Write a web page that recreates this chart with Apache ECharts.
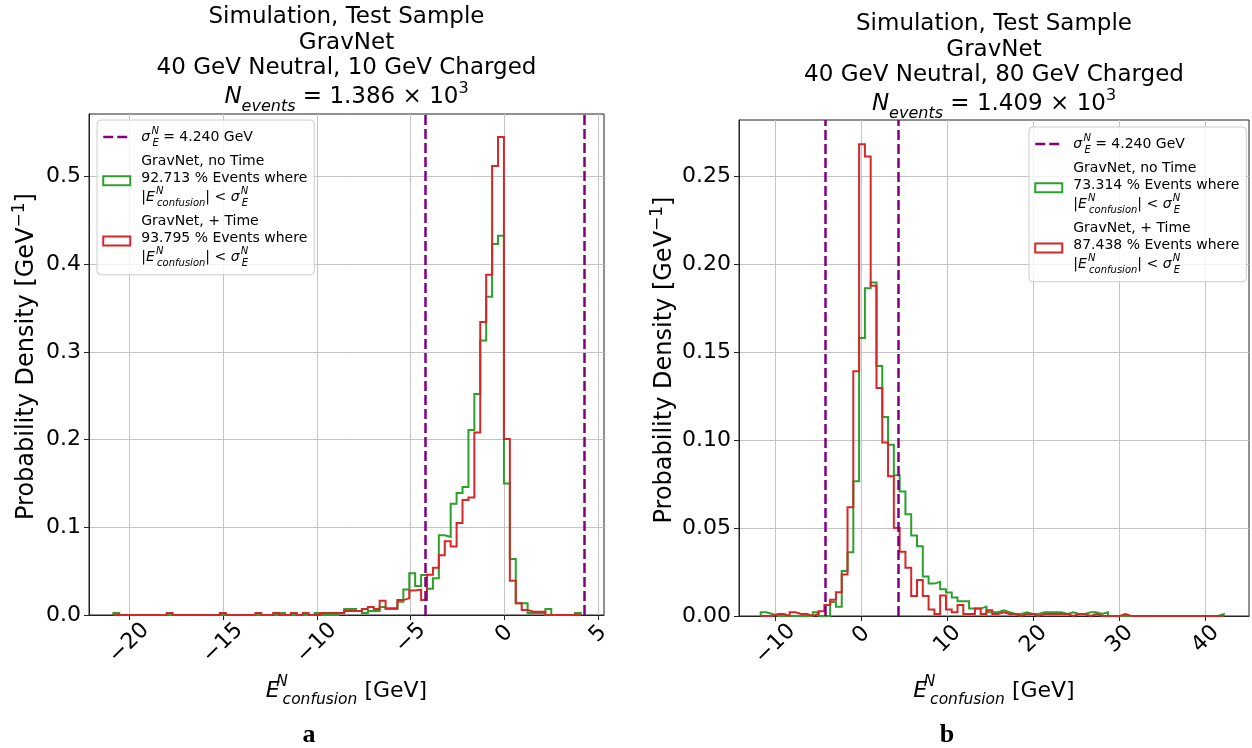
<!DOCTYPE html>
<html><head><meta charset="utf-8">
<script src="https://cdn.jsdelivr.net/npm/echarts@6/dist/echarts.min.js"></script>
<style>html,body{margin:0;padding:0;background:#fff}#c{width:1252px;height:748px}</style>
</head><body><div id="c"></div>
<script>
const FONT = 'DejaVu Sans';
const GREEN = '#2ca02c', RED = '#d62728', PURPLE = '#800080';
const sigmaN = 4.240;

// ---------- Panel a: 40 GeV Neutral, 10 GeV Charged ----------
const aBinStart = -20.84, aBinWidth = 0.3154;
const aNoTime = [
0.0023,0,0,0,0,0,0,0,0,0,
0,0,0,0,0,0,0,0,0,0,
0,0,0,0,0,0,0,0,0.0023,0,
0,0,0,0,0.0023,0,0,0,0.0023,0.0069,
0.0069,0.0046,0.0023,0.0046,0.0046,0.0092,0.0069,0.0069,0.0150,0.029,
0.0475,0.033,0.0456,0.030,0.042,0.091,0.089,0.127,0.139,0.146,
0.211,0.252,0.313,0.363,0.423,0.4325,0.150,0.064,0.0133,0.0133,
0.0023,0.0023,0.0023,0.0069,0,0,0,0,0.0023];
const aTime = [
0,0,0,0,0,0,0,0,0,0.0023,
0,0,0,0,0,0,0,0,0.0023,0,
0,0,0,0,0.0023,0,0,0.0023,0,0,
0.0023,0,0.0023,0,0,0.0023,0.0023,0.0023,0.0023,0.0046,
0.0046,0.0046,0.0069,0.0092,0.0069,0.0162,0.0076,0.0076,0.017,0.019,
0.028,0.029,0.017,0.046,0.054,0.068,0.084,0.078,0.105,0.131,
0.134,0.208,0.334,0.388,0.512,0.545,0.2007,0.039,0.0133,0.0057,
0.0038,0.0038,0.0038,0,0,0,0,0,0];
const aXTicks = [-20,-15,-10,-5,0,5];
const aYTicks = [0,0.1,0.2,0.3,0.4,0.5];
const aTitle = ['Simulation, Test Sample','GravNet','40 GeV Neutral, 10 GeV Charged'];
const aNEvents = '1.386';
const aPct = [92.713, 93.795];

// ---------- Panel b: 40 GeV Neutral, 80 GeV Charged ----------
const bBinStart = -11.71, bBinWidth = 0.6727;
const bNoTime = [
0.0021,0.0011,0,0,0,0,0,0,0,0.0021,
0,0,0.0080,0.0052,0.0255,0.0362,0.0765,0.158,0.1862,0.1895,
0.142,0.113,0.0973,0.0800,0.0708,0.0578,0.0457,0.0396,0.0224,0.0184,
0.0194,0.0152,0.0133,0.0105,0.0084,0.0084,0.0042,0.0042,0.0053,0.0021,
0.0021,0.0032,0.0021,0.0011,0.0011,0.0021,0.0011,0.0011,0.0021,0.0021,
0.0021,0.0021,0.0011,0.0021,0.0011,0.0011,0.0021,0.0021,0.0011,0.0021,
0,0,0,0,0,0,0,0,0,0,
0,0,0,0,0,0,0,0,0,0.0011];
const bTime = [
0,0,0.0011,0.0011,0,0.0021,0.0011,0.0011,0,0.0011,
0.0027,0.0062,0.0093,0.0135,0.0236,0.0618,0.139,0.268,0.261,0.1876,
0.1295,0.0986,0.0794,0.050,0.0365,0.0274,0.0113,0.0205,0.0113,0.0037,
0.0011,0.0116,0.0037,0.0021,0.0063,0.0011,0.0011,0.0042,0.0011,0.0032,
0.0011,0.0021,0.0011,0.0011,0,0.0011,0.0011,0,0.0011,0.0011,
0.0011,0.0011,0.0011,0,0.0011,0.0011,0,0.0011,0,0,
0,0,0.0011,0,0,0,0,0,0,0,
0,0,0,0,0,0,0,0,0,0];
const bXTicks = [-10,0,10,20,30,40];
const bYTicks = [0,0.05,0.10,0.15,0.20,0.25];
const bTitle = ['Simulation, Test Sample','GravNet','40 GeV Neutral, 80 GeV Charged'];
const bNEvents = '1.409';
const bPct = [73.314, 87.438];

// ---------- helpers ----------
function stepPoints(start, width, vals) {
  const pts = [[start, 0]];
  vals.forEach((v, i) => { pts.push([start + i * width, v], [start + (i + 1) * width, v]); });
  pts.push([start + vals.length * width, 0]);
  return pts;
}
function xLabel(v) {
  const s = (v < 0 ? '\u2212' : '') + Math.abs(v);
  return '{c' + s.length + '|' + s + '}';
}
const base = {fontFamily: FONT, fontSize: 22, color: '#000'};
const xRich = {
  c1: Object.assign({}, base, {padding: [0, 0, 0, 0]}),
  c2: Object.assign({}, base, {padding: [6, 6, 0, 0]}),
  c3: Object.assign({}, base, {padding: [13, 13, 0, 0]})
};
const yNameRich = {
  n: {fontFamily: FONT, fontSize: 24, color: '#000', lineHeight: 32},
  p: {fontFamily: FONT, fontSize: 17, color: '#000', lineHeight: 17, verticalAlign: 'top'}
};
const yName = '{n|Probability Density [GeV}{p|\u22121}{n|]}';

function makeAxes(gi, xmin, xmax, xt, ymax, yt, ydec, nameGap) {
  const lineC = '#222';
  return {
    x: {
      type: 'value', gridIndex: gi, min: xmin, max: xmax,
      axisLine: {show: true, onZero: false, lineStyle: {color: lineC, width: 1}},
      axisTick: {show: true, customValues: xt, length: 5, lineStyle: {color: lineC}},
      axisLabel: {customValues: xt, formatter: xLabel, rotate: 45, align: 'center', verticalAlign: 'middle',
                  margin: 19, rich: xRich, fontFamily: FONT, fontSize: 22, color: '#000'},
      splitLine: {show: true, lineStyle: {color: '#c4c4c4', width: 1}}
    },
    y: {
      type: 'value', gridIndex: gi, min: 0, max: ymax,
      axisLine: {show: true, onZero: false, lineStyle: {color: lineC, width: 1}},
      axisTick: {show: true, customValues: yt, length: 5, lineStyle: {color: lineC}},
      axisLabel: {customValues: yt, formatter: v => v.toFixed(ydec), margin: 8,
                  fontFamily: FONT, fontSize: 22, color: '#000'},
      splitLine: {show: true, lineStyle: {color: '#c4c4c4', width: 1}},
      name: yName, nameLocation: 'middle', nameRotate: 90, nameGap: nameGap,
      nameTextStyle: {rich: yNameRich, fontFamily: FONT, fontSize: 24, color: '#000', padding: [0, 0, 0, 16]}
    }
  };
}
const axA = makeAxes(0, -22.14, 5.31, aXTicks, 0.5713, aYTicks, 1, 46);
const axB = makeAxes(1, -14.23, 45.03, bXTicks, 0.2818, bYTicks, 2, 58);

function sigmaSeries(name, gi) {
  return {
    name: name, type: 'line', xAxisIndex: gi, yAxisIndex: gi, data: [], symbol: 'none',
    itemStyle: {color: 'rgba(0,0,0,0)'},
    lineStyle: {color: PURPLE, width: 2.5, type: [10, 4]},
    z: 5,
    markLine: {silent: true, symbol: ['none', 'none'], label: {show: false}, animation: false,
      lineStyle: {color: PURPLE, width: 2.5, type: [10, 4]},
      emphasis: {disabled: true},
      data: [{xAxis: -sigmaN}, {xAxis: sigmaN}]}
  };
}
function histSeries(name, gi, start, width, vals, color, z) {
  return {
    name: name, type: 'line', xAxisIndex: gi, yAxisIndex: gi, data: stepPoints(start, width, vals),
    symbol: 'none', showSymbol: false, z: z, silent: true,
    itemStyle: {color: color},
    lineStyle: {color: color, width: 2, join: 'miter'}
  };
}

const legRich = {
  n: {fontFamily: FONT, fontSize: 14, color: '#000', lineHeight: 22},
  e: {fontFamily: FONT, fontSize: 14, fontStyle: 'italic', color: '#000', lineHeight: 22},
  g: {fontFamily: FONT, fontSize: 4, color: '#000', lineHeight: 22},
  sp: {fontFamily: FONT, fontSize: 10, fontStyle: 'italic', color: '#000', lineHeight: 14, verticalAlign: 'top', width: 1},
  sb: {fontFamily: FONT, fontSize: 10, fontStyle: 'italic', color: '#000', lineHeight: 8, verticalAlign: 'bottom'}
};
const mathLine = '{n||}{e|E}{g| }{sp|N}{sb|confusion}{n|| < }{e|\u03c3}{g| }{sp|N}{sb|E}';
function legendFormatter(pct) {
  return function (name) {
    if (name.indexOf('sig') === 0) return '{e|\u03c3}{g| }{sp|N}{sb|E}{n| = ' + sigmaN.toFixed(3) + ' GeV}';
    if (name.indexOf('noTime') === 0) return 'GravNet, no Time\n' + pct[0].toFixed(3) + ' % Events where\n' + mathLine;
    return 'GravNet, + Time\n' + pct[1].toFixed(3) + ' % Events where\n' + mathLine;
  };
}
function makeLegend(suffix, left, top, pct) {
  return {
    left: left, top: top, orient: 'vertical', align: 'left',
    itemWidth: 27, itemHeight: 9, itemGap: 5, padding: [6, 7, 6, 5],
    backgroundColor: 'rgba(255,255,255,0.8)', borderColor: '#cccccc', borderWidth: 1, borderRadius: 4,
    selectedMode: false,
    data: [
      {name: 'sig' + suffix, itemStyle: {opacity: 0}, lineStyle: {color: PURPLE, width: 2.5, type: [10, 4]}},
      {name: 'noTime' + suffix, icon: 'rect', itemStyle: {color: '#ffffff', borderColor: GREEN, borderWidth: 2}},
      {name: 'time' + suffix, icon: 'rect', itemStyle: {color: '#ffffff', borderColor: RED, borderWidth: 2}}
    ],
    formatter: legendFormatter(pct),
    textStyle: {fontFamily: FONT, fontSize: 14, color: '#000', lineHeight: 16.7, padding: [0, 0, 0, 6], rich: legRich}
  };
}

// ---------- text (titles, x-axis names, panel letters) ----------
const titleRich = {
  m: {fontFamily: FONT, fontSize: 23, fill: '#000', lineHeight: 34},
  mi: {fontFamily: FONT, fontSize: 23, fontStyle: 'italic', fill: '#000', lineHeight: 34},
  sb: {fontFamily: FONT, fontSize: 16, fontStyle: 'italic', fill: '#000', lineHeight: 20, verticalAlign: 'bottom'},
  sp: {fontFamily: FONT, fontSize: 16, fill: '#000', lineHeight: 16, verticalAlign: 'top'}
};
const xNameRich = {
  e: {fontFamily: FONT, fontSize: 22, fontStyle: 'italic', fill: '#000', lineHeight: 34},
  g: {fontFamily: FONT, fontSize: 6, fill: '#000', lineHeight: 34},
  sp: {fontFamily: FONT, fontSize: 15.5, fontStyle: 'italic', fill: '#000', lineHeight: 22, verticalAlign: 'top', width: 1},
  sb: {fontFamily: FONT, fontSize: 15.5, fontStyle: 'italic', fill: '#000', lineHeight: 16, verticalAlign: 'bottom'},
  n: {fontFamily: FONT, fontSize: 22, fill: '#000', lineHeight: 34}
};
function txt(x, y, text, extra) {
  return {type: 'text', x: x, y: y, silent: true, z: 100,
    style: Object.assign({text: text, fill: '#000', fontFamily: FONT, fontSize: 23, align: 'center', verticalAlign: 'middle'}, extra || {})};
}
function titleBlock(cx, y0, lines, nev) {
  return [
    txt(cx, y0, lines[0]),
    txt(cx, y0 + 25.5, lines[1]),
    txt(cx, y0 + 51, lines[2]),
    txt(cx, y0 + 80, '{mi|N}{sb|events}{m| = ' + nev + ' \u00d7 10}{sp|3}', {rich: titleRich})
  ];
}
const xName = '{e|E}{g| }{sp|N}{sb|confusion}{n| [GeV]}';
const graphics = [].concat(
  titleBlock(346.5, 17.5, aTitle, aNEvents),
  titleBlock(994, 24.5, bTitle, bNEvents),
  [txt(346.5, 691, xName, {rich: xNameRich}),
   txt(994, 691, xName, {rich: xNameRich}),
   txt(309, 735, 'a', {fontFamily: 'Liberation Serif', fontWeight: 'bold', fontSize: 26}),
   txt(947, 735, 'b', {fontFamily: 'Liberation Serif', fontWeight: 'bold', fontSize: 26})]
);

const chart = echarts.init(document.getElementById('c'), null, {renderer: 'canvas'});
chart.setOption({
  animation: false,
  backgroundColor: '#ffffff',
  grid: [
    {left: 89, top: 114, width: 515, height: 501, show: true, borderColor: '#222', borderWidth: 1, backgroundColor: 'rgba(0,0,0,0)', containLabel: false, outerBoundsMode: 'none'},
    {left: 739, top: 120, width: 510, height: 496, show: true, borderColor: '#222', borderWidth: 1, backgroundColor: 'rgba(0,0,0,0)', containLabel: false, outerBoundsMode: 'none'}
  ],
  xAxis: [axA.x, axB.x],
  yAxis: [axA.y, axB.y],
  legend: [makeLegend('A', 97, 120, aPct), makeLegend('B', 1029, 127, bPct)],
  graphic: graphics,
  series: [
    histSeries('noTimeA', 0, aBinStart, aBinWidth, aNoTime, GREEN, 2),
    histSeries('timeA', 0, aBinStart, aBinWidth, aTime, RED, 3),
    sigmaSeries('sigA', 0),
    histSeries('noTimeB', 1, bBinStart, bBinWidth, bNoTime, GREEN, 2),
    histSeries('timeB', 1, bBinStart, bBinWidth, bTime, RED, 3),
    sigmaSeries('sigB', 1)
  ]
});
</script>
</body></html>
